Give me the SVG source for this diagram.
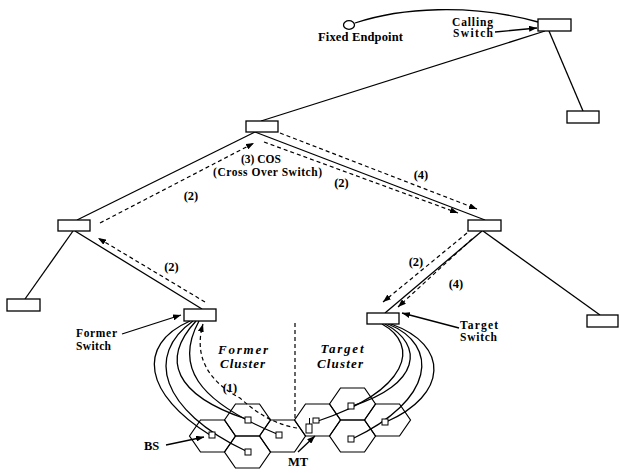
<svg xmlns="http://www.w3.org/2000/svg" xmlns:xlink="http://www.w3.org/1999/xlink" width="619" height="473" viewBox="0 0 619 473">
<style>
.box{fill:#fff;stroke:#000;stroke-width:1.3}
.ln{fill:none;stroke:#000;stroke-width:1.3}
.dash{fill:none;stroke:#000;stroke-width:1.2;stroke-dasharray:4 3}
.hex{fill:none;stroke:#000;stroke-width:1.2}
.sq{fill:#fff;stroke:#000;stroke-width:1}
.t{font-family:"Liberation Serif","Times New Roman",serif;font-weight:bold;font-size:12.5px;fill:#000}
.s{font-size:11.5px}
.ti{font-family:"Liberation Serif","Times New Roman",serif;font-weight:bold;font-style:italic;font-size:13px;fill:#000}
</style>
<defs>
<marker id="ah" viewBox="0 0 8 6" refX="8" refY="3" markerWidth="8" markerHeight="6" markerUnits="userSpaceOnUse" orient="auto-start-reverse">
<path d="M0,0 L8,3 L0,6 z" fill="#000" stroke="none"/>
</marker>
<polygon id="hx" class="hex" points="-23,0 -12,-16 12,-16 23,0 12,16 -12,16"/>
</defs>
<rect width="619" height="473" fill="#fff"/>

<g id="connectors">
<path class="ln" d="M355,23 C400,8 470,3 538,22"/>
<line class="ln" x1="545" y1="31" x2="261" y2="121"/>
<line class="ln" x1="549" y1="31" x2="583" y2="111"/>
<line class="ln" x1="255" y1="132" x2="77" y2="220"/>
<line class="ln" x1="255" y1="132" x2="485" y2="220"/>
<line class="ln" x1="73" y1="231" x2="25" y2="299"/>
<line class="ln" x1="75" y1="231" x2="202" y2="309"/>
<line class="ln" x1="482" y1="231" x2="385" y2="313"/>
<line class="ln" x1="483" y1="231" x2="600" y2="315"/>
<line class="dash" x1="100" y1="223" x2="254" y2="143" marker-end="url(#ah)"/>
<line class="dash" x1="205" y1="302" x2="98" y2="238" marker-end="url(#ah)"/>
<line class="dash" x1="280" y1="133" x2="477" y2="209" marker-end="url(#ah)"/>
<line class="dash" x1="264" y1="142" x2="458" y2="213" marker-end="url(#ah)"/>
<line class="dash" x1="467" y1="233" x2="383" y2="302" marker-end="url(#ah)"/>
<line class="dash" x1="472" y1="239" x2="398" y2="307" marker-end="url(#ah)"/>
<path class="dash" d="M297,428 C280,425 262,418 240,398 C215,385 192,362 203,324" marker-end="url(#ah)"/>
<line class="dash" x1="295" y1="323" x2="295" y2="420"/>
<path class="ln" d="M190,321 C135,345 145,395 210,435"/>
<path class="ln" d="M193,321 C145,355 160,410 246,451"/>
<path class="ln" d="M196,321 C160,360 175,395 246,419"/>
<path class="ln" d="M199,321 C175,365 195,400 277,434"/>
<path class="ln" d="M382,324 C420,345 410,390 318,421"/>
<path class="ln" d="M385,324 C425,345 420,385 352,406"/>
<path class="ln" d="M388,324 C440,345 435,400 352,439"/>
<path class="ln" d="M391,324 C450,345 448,395 386,422"/>
<line class="ln" x1="495" y1="32" x2="537" y2="28" stroke-width="1" marker-end="url(#ah)"/>
<line class="ln" x1="122" y1="334" x2="181" y2="315" stroke-width="1" marker-end="url(#ah)"/>
<line class="ln" x1="459" y1="328" x2="402" y2="313" stroke-width="1" marker-end="url(#ah)"/>
<line class="ln" x1="166" y1="445" x2="204" y2="437" stroke-width="1" marker-end="url(#ah)"/>
<line class="ln" x1="298" y1="452" x2="315" y2="436" stroke-width="1" marker-end="url(#ah)"/>
</g>

<g id="fixed-endpoint">
<ellipse cx="349" cy="25" rx="5.5" ry="4.3" fill="#fff" stroke="#000" stroke-width="1.3"/>
<text class="t" x="360.5" y="41" text-anchor="middle" textLength="85">Fixed Endpoint</text>
</g>
<g id="calling-switch">
<rect class="box" x="538" y="19" width="33" height="12"/>
<text class="t s" x="452" y="26" textLength="41">Calling</text>
<text class="t s" x="453" y="37" textLength="40">Switch</text>
</g>
<g id="switch-right-top"><rect class="box" x="567" y="111" width="32" height="12"/></g>
<g id="cos">
<rect class="box" x="246" y="121" width="32" height="11"/>
<text class="t s" x="261" y="163" text-anchor="middle">(3) COS</text>
<text class="t s" x="267.5" y="175.5" text-anchor="middle" textLength="109">(Cross Over Switch)</text>
</g>
<g id="switch-left-mid"><rect class="box" x="58" y="220" width="32" height="11"/></g>
<g id="switch-right-mid"><rect class="box" x="468" y="220" width="33" height="11"/></g>
<g id="switch-left-bottom"><rect class="box" x="7" y="299" width="33" height="12"/></g>
<g id="switch-right-bottom"><rect class="box" x="587" y="315" width="31" height="12"/></g>
<g id="former-switch">
<rect class="box" x="184" y="309" width="32" height="12"/>
<text class="t s" x="76" y="337" textLength="41">Former</text>
<text class="t s" x="76" y="349.5" textLength="35">Switch</text>
</g>
<g id="target-switch">
<rect class="box" x="367" y="313" width="32" height="11"/>
<text class="t s" x="460" y="329" textLength="38">Target</text>
<text class="t s" x="460" y="341" textLength="37">Switch</text>
</g>

<g id="labels">
<text class="t" x="191" y="200" text-anchor="middle">(2)</text>
<text class="t" x="171.5" y="271" text-anchor="middle">(2)</text>
<text class="t" x="341.5" y="187" text-anchor="middle">(2)</text>
<text class="t" x="421" y="179" text-anchor="middle">(4)</text>
<text class="t" x="416" y="266" text-anchor="middle">(2)</text>
<text class="t" x="456" y="288" text-anchor="middle">(4)</text>
<text class="t" x="230" y="392" text-anchor="middle">(1)</text>
<text class="ti" x="243" y="354" text-anchor="middle" textLength="50">Former</text>
<text class="ti" x="242.5" y="368" text-anchor="middle" textLength="45">Cluster</text>
<text class="ti" x="342" y="353" text-anchor="middle" textLength="43">Target</text>
<text class="ti" x="340" y="368" text-anchor="middle" textLength="46">Cluster</text>
<text class="t" x="144" y="450" font-size="13">BS</text>
<text class="t" x="288" y="466" font-size="13">MT</text>
</g>

<g id="former-cluster">
<use xlink:href="#hx" href="#hx" x="212.5" y="436"/>
<use xlink:href="#hx" href="#hx" x="247.5" y="420"/>
<use xlink:href="#hx" href="#hx" x="247.5" y="452"/>
<use xlink:href="#hx" href="#hx" x="282.5" y="436"/>
<rect class="sq" x="209" y="432" width="6" height="6"/>
<rect class="sq" x="245" y="417" width="6" height="6"/>
<rect class="sq" x="245" y="449" width="6" height="6"/>
<rect class="sq" x="276" y="432" width="6" height="6"/>
</g>
<g id="target-cluster">
<use xlink:href="#hx" href="#hx" x="317.5" y="420"/>
<use xlink:href="#hx" href="#hx" x="352.5" y="404"/>
<use xlink:href="#hx" href="#hx" x="352.5" y="436"/>
<use xlink:href="#hx" href="#hx" x="387.5" y="420"/>
<rect class="sq" x="313" y="418" width="6" height="5"/>
<rect class="sq" x="348" y="403" width="6" height="6"/>
<rect class="sq" x="348" y="436" width="6" height="6"/>
<rect class="sq" x="382" y="419" width="6" height="6"/>
</g>
<g id="mt">
<line x1="309.5" y1="418" x2="309.5" y2="424" stroke="#000" stroke-width="1"/>
<rect class="sq" x="306" y="424" width="6" height="9"/>
</g>
</svg>
